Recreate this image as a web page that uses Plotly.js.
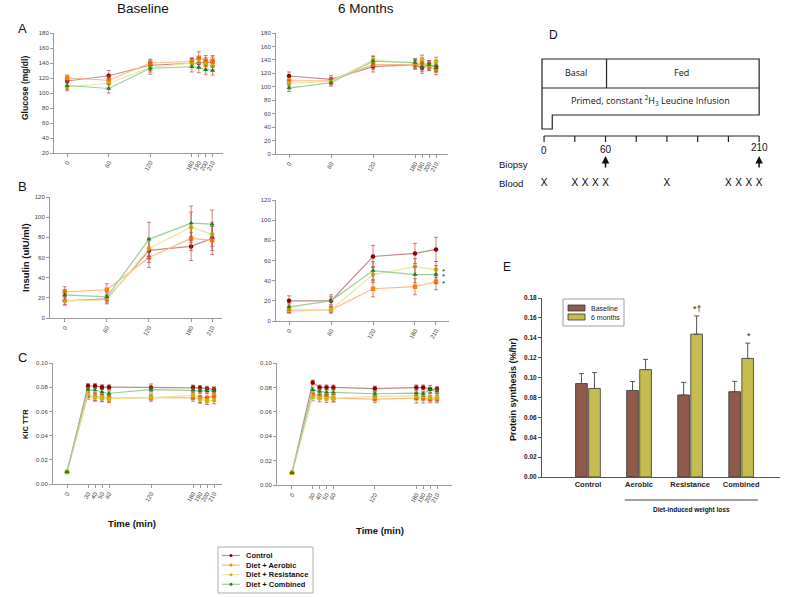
<!DOCTYPE html>
<html>
<head>
<meta charset="utf-8">
<script src="https://cdn.plot.ly/plotly-3.0.1.min.js"></script>
<style>
  html, body { margin: 0; padding: 0; background: #fff; }
  #plot { width: 800px; height: 597px; }
</style>
</head>
<body>
<div id="plot"></div>
<script>
// --- data ---
const groups = ['Control', 'Diet + Aerobic', 'Diet + Resistance', 'Diet + Combined'];

const timesGlucose = [0, 60, 120, 180, 190, 200, 210];
const timesInsulin = [0, 60, 120, 180, 210];
const timesKic = [0, 30, 40, 50, 60, 120, 180, 190, 200, 210];

// rows follow `groups`
const glucoseBaseline = [
  [116, 123, 137, 140, 140, 141, 141],
  [120, 117, 140, 142, 147, 143, 143],
  [108, 113, 134, 140, 141, 138, 137],
  [110, 106, 133, 135, 134, 131, 130]
];
const glucoseBaselineErr = [
  [6, 7, 7, 6, 6, 6, 7],
  [4, 6, 5, 5, 8, 7, 7],
  [5, 6, 6, 6, 6, 6, 6],
  [5, 6, 8, 7, 7, 6, 6]
];
const glucose6mo = [
  [116, 111, 130, 133, 128, 133, 130],
  [109, 109, 133, 133, 135, 131, 125],
  [105, 108, 140, 135, 141, 130, 138],
  [98, 106, 138, 136, 130, 133, 128]
];
const glucose6moErr = [
  [6, 6, 8, 7, 8, 6, 8],
  [5, 5, 7, 6, 8, 6, 7],
  [5, 5, 6, 6, 6, 6, 6],
  [5, 5, 7, 6, 7, 6, 6]
];

const insulinBaseline = [
  [17, 19, 67, 71, 79],
  [26, 28, 60, 79, 77],
  [17, 18, 69, 90, 83],
  [23, 21, 78, 94, 93]
];
const insulinBaselineErr = [
  [4, 4, 12, 14, 12],
  [5, 6, 10, 12, 14],
  [4, 4, 10, 15, 12],
  [5, 4, 17, 17, 14]
];
const insulin6mo = [
  [20, 20, 64, 67, 71],
  [10, 11, 32, 34, 39],
  [11, 11, 46, 54, 51],
  [14, 20, 50, 46, 46]
];
const insulin6moErr = [
  [5, 6, 11, 10, 12],
  [2, 3, 8, 8, 8],
  [3, 3, 8, 8, 8],
  [3, 4, 9, 8, 9]
];

const kicBaseline = [
  [0.010, 0.081, 0.081, 0.080, 0.080, 0.0797, 0.0797, 0.0794, 0.0788, 0.0783],
  [0.010, 0.073, 0.072, 0.0714, 0.071, 0.0714, 0.0714, 0.0714, 0.0712, 0.0725],
  [0.010, 0.0747, 0.0714, 0.071, 0.0703, 0.0714, 0.0733, 0.0698, 0.0687, 0.0692],
  [0.010, 0.078, 0.0775, 0.076, 0.075, 0.078, 0.0775, 0.077, 0.077, 0.077]
];
const kicBaselineErr = [
  [0, 0.002, 0.002, 0.002, 0.002, 0.003, 0.002, 0.002, 0.002, 0.002],
  [0, 0.003, 0.003, 0.003, 0.003, 0.003, 0.003, 0.004, 0.004, 0.003],
  [0, 0.003, 0.003, 0.003, 0.003, 0.002, 0.003, 0.003, 0.003, 0.003],
  [0, 0.002, 0.002, 0.002, 0.002, 0.002, 0.002, 0.002, 0.002, 0.002]
];
const kic6mo = [
  [0.010, 0.084, 0.080, 0.080, 0.080, 0.079, 0.080, 0.080, 0.0786, 0.0786],
  [0.010, 0.074, 0.073, 0.0726, 0.0712, 0.0704, 0.0712, 0.0712, 0.0704, 0.0704],
  [0.010, 0.072, 0.0712, 0.0707, 0.0712, 0.0726, 0.073, 0.0726, 0.072, 0.072],
  [0.010, 0.078, 0.0767, 0.076, 0.076, 0.0748, 0.0753, 0.0748, 0.078, 0.0767]
];
const kic6moErr = [
  [0, 0.002, 0.002, 0.002, 0.002, 0.002, 0.002, 0.002, 0.003, 0.002],
  [0, 0.003, 0.003, 0.003, 0.003, 0.003, 0.004, 0.004, 0.003, 0.003],
  [0, 0.003, 0.003, 0.003, 0.003, 0.003, 0.003, 0.003, 0.003, 0.003],
  [0, 0.002, 0.002, 0.002, 0.002, 0.002, 0.002, 0.002, 0.002, 0.002]
];

// panel E
const synthCategories = ['Control', 'Aerobic', 'Resistance', 'Combined'];
const synthBaseline = [0.094, 0.087, 0.0825, 0.0858];
const synthBaselineErr = [0.010, 0.009, 0.0127, 0.0104];
const synth6mo = [0.089, 0.108, 0.1436, 0.1192];
const synth6moErr = [0.016, 0.0103, 0.0184, 0.0154];
const synthMarks = ['', '', '*†', '*'];

// panel D (protocol)
const bloodTimes = [0, 30, 40, 50, 60, 120, 180, 190, 200, 210];
const biopsyTimes = [60, 210];
const protocolTicks = [0, 30, 60, 90, 120, 150, 180, 210];

// --- styles ---
const markerColors = ['#8b0000', '#ff7f00', '#c9b800', '#0a8a0a'];
const lineColors = ['#c48a8a', '#ffb889', '#ece69e', '#97d197'];
const symbols = ['circle', 'square', 'circle', 'triangle-up'];
const errColor = 'rgba(180,80,80,0.7)';
const FONT = 'Liberation Sans, Arial, sans-serif';

const px = p => p / 800;
const py = p => 1 - p / 597;

const traces = [];

function addPanel(times, rows, errs, xa, ya) {
  rows.forEach((vals, i) => {
    traces.push({
      x: times, y: vals, xaxis: xa, yaxis: ya,
      type: 'scatter', mode: 'lines+markers',
      name: groups[i], showlegend: false,
      line: { color: lineColors[i], width: 1.2 },
      marker: { color: markerColors[i], size: 4.5, symbol: symbols[i] },
      error_y: { type: 'data', array: errs[i], color: errColor, thickness: 1, width: 2 }
    });
  });
}

addPanel(timesGlucose, glucoseBaseline, glucoseBaselineErr, 'x', 'y');
addPanel(timesGlucose, glucose6mo, glucose6moErr, 'x2', 'y2');
addPanel(timesInsulin, insulinBaseline, insulinBaselineErr, 'x3', 'y3');
addPanel(timesInsulin, insulin6mo, insulin6moErr, 'x4', 'y4');
addPanel(timesKic, kicBaseline, kicBaselineErr, 'x5', 'y5');
addPanel(timesKic, kic6mo, kic6moErr, 'x6', 'y6');

// panel D blood draws
traces.push({
  x: bloodTimes, y: bloodTimes.map(() => 183), xaxis: 'x7', yaxis: 'y7',
  type: 'scatter', mode: 'text', text: bloodTimes.map(() => 'X'),
  textfont: { family: FONT, size: 10, color: '#000' },
  showlegend: false, hoverinfo: 'skip'
});

// panel E bars
traces.push({
  x: synthCategories, y: synthBaseline, xaxis: 'x8', yaxis: 'y8', type: 'bar',
  name: 'Baseline', showlegend: false,
  marker: { color: '#8f5a4a', line: { color: '#333', width: 0.8 } },
  error_y: { type: 'data', symmetric: false, array: synthBaselineErr,
             arrayminus: synthBaselineErr.map(() => 0), color: '#555', thickness: 1, width: 2.5 }
});
traces.push({
  x: synthCategories, y: synth6mo, xaxis: 'x8', yaxis: 'y8', type: 'bar',
  name: '6 months', showlegend: false,
  marker: { color: '#c6bb4e', line: { color: '#333', width: 0.8 } },
  error_y: { type: 'data', symmetric: false, array: synth6moErr,
             arrayminus: synth6moErr.map(() => 0), color: '#555', thickness: 1, width: 2.5 }
});

// --- axes ---
function xAxis(d0, d1, range, tickvals, anchor) {
  return {
    domain: [px(d0), px(d1)], range: range, anchor: anchor,
    tickvals: tickvals, tickangle: -60,
    showline: true, linecolor: '#999', linewidth: 1,
    ticks: 'outside', ticklen: 3, tickcolor: '#999',
    tickfont: { family: FONT, size: 6, color: '#444' },
    showgrid: false, zeroline: false
  };
}
function yAxis(top, bottom, range, dtick, anchor, fmt) {
  return {
    domain: [py(bottom), py(top)], range: range, anchor: anchor, dtick: dtick,
    tickformat: fmt || '',
    showline: true, linecolor: '#999', linewidth: 1,
    ticks: 'outside', ticklen: 3, tickcolor: '#999',
    tickfont: { family: FONT, size: 6, color: '#444' },
    showgrid: false, zeroline: false
  };
}

const layout = {
  width: 800, height: 597,
  margin: { l: 0, r: 0, t: 0, b: 0 },
  paper_bgcolor: '#fff', plot_bgcolor: 'rgba(0,0,0,0)',
  showlegend: false,
  font: { family: FONT },
  barmode: 'group', bargap: 0.49, bargroupgap: 0.1,

  xaxis: xAxis(54, 223, [-19, 225], timesGlucose, 'y'),
  yaxis: yAxis(33, 153, [20, 180], 20, 'x'),
  xaxis2: xAxis(276, 448, [-18.6, 227], timesGlucose, 'y2'),
  yaxis2: yAxis(33, 154, [0, 180], 20, 'x2'),
  xaxis3: xAxis(50, 222, [-21, 224], timesInsulin, 'y3'),
  yaxis3: yAxis(197, 318, [0, 120], 20, 'x3'),
  xaxis4: xAxis(276, 449, [-18.6, 228.6], timesInsulin, 'y4'),
  yaxis4: yAxis(200, 321, [0, 120], 20, 'x4'),
  xaxis5: xAxis(53, 222, [-20, 221.4], timesKic, 'y5'),
  yaxis5: yAxis(363, 484, [0, 0.1], 0.02, 'x5', '.2f'),
  xaxis6: xAxis(277, 452, [-21.7, 231.7], timesKic, 'y6'),
  yaxis6: yAxis(363, 485, [0, 0.1], 0.02, 'x6', '.2f'),

  // protocol diagram: x in minutes, y in pixel rows
  xaxis7: { domain: [px(495), px(800)], range: [-47.9, 249.9], visible: false, anchor: 'y7' },
  yaxis7: { domain: [py(200), py(20)], range: [200, 20], visible: false, anchor: 'x7' },

  xaxis8: {
    domain: [px(542), px(780)], range: [-0.9, 3.76], anchor: 'y8', type: 'category',
    showline: true, linecolor: '#555', ticks: '',
    tickfont: { family: FONT, size: 7.5, color: '#222', weight: 'bold' },
    showgrid: false, zeroline: false
  },
  yaxis8: {
    domain: [py(477), py(298)], range: [0, 0.18], anchor: 'x8', dtick: 0.02, tickformat: '.2f',
    showline: true, linecolor: '#555', ticks: 'outside', ticklen: 3, tickcolor: '#555',
    tickfont: { family: FONT, size: 6.5, color: '#222', weight: 'bold' },
    showgrid: false, zeroline: false
  },
  shapes: [],
  annotations: []
};

const ann = layout.annotations;
const shp = layout.shapes;

function paperText(text, x, y, size, opts) {
  ann.push(Object.assign({
    text: text, xref: 'paper', yref: 'paper', x: px(x), y: py(y),
    xanchor: 'center', yanchor: 'middle',
    showarrow: false, font: { family: FONT, size: size, color: '#111' }
  }, opts || {}));
}

// column titles and panel letters
paperText('Baseline', 143, 8, 13.5);
paperText('6 Months', 366, 8, 13.5);
paperText('A', 22, 28, 13);
paperText('B', 22, 186, 13);
paperText('C', 22, 357, 13);
paperText('D', 553, 35, 12);
paperText('E', 507, 267, 12);

// axis titles
const boldFont = (s) => ({ family: FONT, size: s, color: '#111', weight: 'bold' });
paperText('Glucose (mg/dl)', 25, 88, 8.5, { textangle: -90, font: boldFont(8.5) });
paperText('Insulin (uIU/ml)', 25, 258, 9.5, { textangle: -90, font: boldFont(9.5) });
paperText('KIC TTR', 25, 424, 7.5, { textangle: -90, font: boldFont(7.5) });
paperText('Time (min)', 132, 523, 9.5, { font: boldFont(9.5) });
paperText('Time (min)', 380, 530, 9.5, { font: boldFont(9.5) });
paperText('Protein synthesis (%/hr)', 513, 390, 9, { textangle: -90, font: boldFont(9) });

// insulin 6 months significance marks
[2, 3, 1].forEach(i => {
  ann.push({
    text: '*', xref: 'x4', yref: 'y4', x: 210, y: insulin6mo[i][4],
    xshift: 8, yshift: -2, showarrow: false, font: { family: FONT, size: 8, color: '#222' }
  });
});

// panel E marks, weight-loss bracket
synthCategories.forEach((c, i) => {
  if (!synthMarks[i]) return;
  ann.push({
    text: synthMarks[i], xref: 'x8', yref: 'y8', x: c, y: synth6mo[i] + synth6moErr[i],
    xshift: 7.5, yanchor: 'bottom', showarrow: false, font: { family: FONT, size: 9, color: '#222' }
  });
});
shp.push({ type: 'line', xref: 'x8', yref: 'paper', x0: 0.72, x1: 3.33,
           y0: py(500), y1: py(500), line: { color: '#444', width: 1 } });
paperText('Diet-induced weight loss', 691, 510, 6.5, { font: boldFont(6.5) });

// panel E legend
const barColors = ['#8f5a4a', '#c6bb4e'];
const barNames = ['Baseline', '6 months'];
shp.push({ type: 'rect', xref: 'paper', yref: 'paper', x0: px(563), x1: px(624),
           y0: py(326), y1: py(299), line: { color: '#888', width: 0.8 } });
barNames.forEach((n, i) => {
  const yy = 308 + i * 9;
  shp.push({ type: 'rect', xref: 'paper', yref: 'paper', x0: px(568), x1: px(585),
             y0: py(yy + 3), y1: py(yy - 3), fillcolor: barColors[i], line: { color: '#333', width: 0.8 } });
  paperText(n, 589, yy, 7, { xanchor: 'left', font: { family: FONT, size: 7, color: '#222' } });
});

// line legend
shp.push({ type: 'rect', xref: 'paper', yref: 'paper', x0: px(218), x1: px(313),
           y0: py(593), y1: py(547), line: { color: '#999', width: 0.8 } });
groups.forEach((g, i) => {
  const yy = 555.5 + i * 9.6;
  shp.push({ type: 'line', xref: 'paper', yref: 'paper', x0: px(222), x1: px(240),
             y0: py(yy), y1: py(yy), line: { color: lineColors[i], width: 1.2 } });
  shp.push({ type: 'circle', xref: 'paper', yref: 'paper', x0: px(229.5), x1: px(232.5),
             y0: py(yy + 1.5), y1: py(yy - 1.5), fillcolor: markerColors[i], line: { width: 0 } });
  paperText(g, 244, yy, 7.5, { xanchor: 'left', font: boldFont(7.5) });
});

// panel D protocol drawing
const dl = { color: '#222', width: 1.2 };
shp.push({ type: 'path', xref: 'x7', yref: 'y7',
           path: 'M -2,59 L 210,59 L 210,115 L 8,115 L 8,129 L -2,129 Z', line: dl });
shp.push({ type: 'line', xref: 'x7', yref: 'y7', x0: -2, x1: 210, y0: 88, y1: 88, line: dl });
shp.push({ type: 'line', xref: 'x7', yref: 'y7', x0: 61, x1: 61, y0: 59, y1: 88, line: dl });
shp.push({ type: 'line', xref: 'x7', yref: 'y7', x0: 0, x1: 210, y0: 136, y1: 136, line: dl });
protocolTicks.forEach(t => {
  shp.push({ type: 'line', xref: 'x7', yref: 'y7', x0: t, x1: t, y0: 136, y1: 142, line: dl });
});
const dFont = { family: 'Open Sans, ' + FONT, size: 9, color: '#111' };
[['Basal', 31, 72], ['Fed', 134, 72]].forEach(([t, x, y]) => {
  ann.push({ text: t, xref: 'x7', yref: 'y7', x: x, y: y, showarrow: false, font: dFont });
});
ann.push({ text: 'Primed, constant <sup>2</sup>H<sub>3</sub> Leucine Infusion', xref: 'x7', yref: 'y7',
           x: 104, y: 100, showarrow: false, font: dFont });
[[0, 150], [60, 149], [210, 147]].forEach(([t, y]) => {
  ann.push({ text: String(t), xref: 'x7', yref: 'y7', x: t, y: y, showarrow: false,
             font: { family: FONT, size: 10, color: '#111' } });
});
ann.push({ text: 'Biopsy', xref: 'x7', yref: 'y7', x: -46, y: 164, xanchor: 'left', showarrow: false,
           font: { family: FONT, size: 9.5, color: '#111' } });
ann.push({ text: 'Blood', xref: 'x7', yref: 'y7', x: -46, y: 183, xanchor: 'left', showarrow: false,
           font: { family: FONT, size: 9.5, color: '#111' } });
biopsyTimes.forEach(t => {
  ann.push({ text: '', xref: 'x7', yref: 'y7', x: t, y: 156, ax: t, ay: 169, axref: 'x7', ayref: 'y7',
             showarrow: true, arrowhead: 2, arrowsize: 1, arrowwidth: 1.5, arrowcolor: '#111' });
});

Plotly.newPlot('plot', traces, layout, { staticPlot: true });
</script>
</body>
</html>
